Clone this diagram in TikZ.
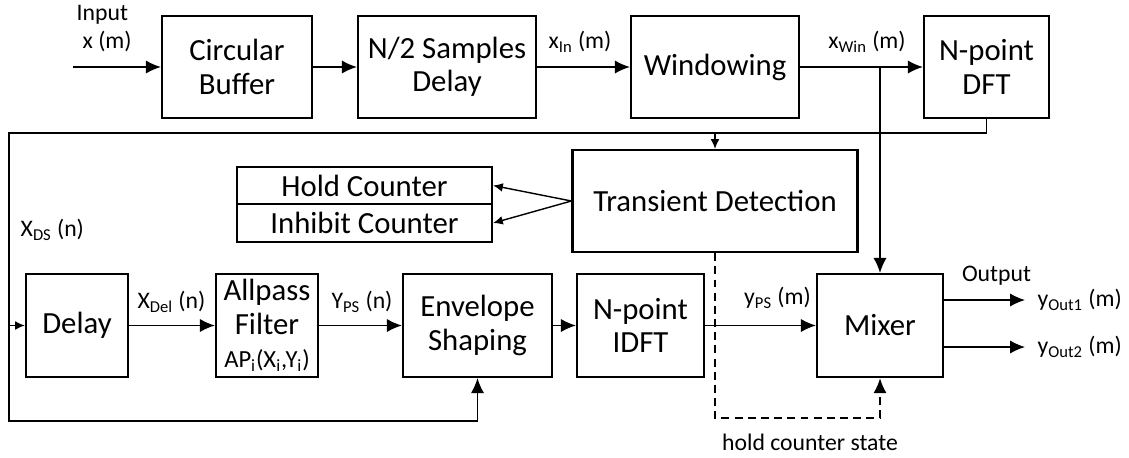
\documentclass[tikz,border=0pt]{standalone}
\usepackage{fontspec}
\setmainfont{Carlito}
\usepackage{tikz}
\usetikzlibrary{arrows,arrows.meta,positioning,calc}

\begin{document}
\begin{tikzpicture}[>={Latex[length=8.5pt,width=7.5pt]}, line width=0.8pt, node distance=4cm]
	\tikzstyle{block}=[draw=black,line width=1.3pt,align=center,inner sep=0pt,font=\fontsize{17.5}{19}\selectfont]
	\tikzstyle{lbl}=[inner sep=0pt,font=\fontsize{13.5}{15.5}\selectfont]
	\tikzstyle{small tip}=[-{Latex[length=5.5pt,width=5pt]}]
	\useasboundingbox (0,0) rectangle (22.58,-9.14);
	% upper chain
	\node[block,minimum width=3cm,minimum height=2.04cm]    (buf) at (4.74,-1.34)  {Circular\\Buffer};
	\node[block,minimum width=3.56cm,minimum height=2.04cm] (half)[node distance=4.2cm,right of=buf]  {N/2 Samples\\Delay};
	\node[block,minimum width=3.36cm,minimum height=2.04cm] (win)[node distance=5.36cm,right of=half] {Windowing};
	\node[block,minimum width=2.5cm,minimum height=2.04cm]  (dft)[node distance=5.43cm,right of=win]  {N-point\\DFT};
	% detection
	\node[block,minimum width=5.7cm,minimum height=2.04cm]  (td)[node distance=2.68cm,below of=win]   {Transient Detection};
	\node[block,minimum width=5.1cm,minimum height=0.74cm]  (hold) at (7.29,-3.71) {Hold Counter};
	\node[block,minimum width=5.1cm,minimum height=0.76cm]  (inh)[below=-1.3pt of hold] {Inhibit Counter};
	% lower chain
	\node[block,minimum width=2.04cm,minimum height=2.06cm] (delay) at (1.54,-6.51) {Delay};
	\node[block,minimum width=2.04cm,minimum height=2.06cm] (ap)[node distance=3.8cm,right of=delay] {Allpass\\Filter\\{\fontsize{14}{15}\selectfont AP\textsubscript{i}(X\textsubscript{i},Y\textsubscript{i})}};
	\node[block,minimum width=2.98cm,minimum height=2.06cm] (env)[node distance=4.21cm,right of=ap]   {Envelope\\Shaping};
	\node[block,minimum width=2.54cm,minimum height=2.06cm] (idft)[node distance=3.26cm,right of=env] {N-point\\IDFT};
	\node[block,minimum width=2.52cm,minimum height=2.06cm] (mix)[node distance=4.79cm,right of=idft] {Mixer};
	% free ends
	\coordinate (in)      at (1.46,-1.34);
	\coordinate (fbtop)   at (0.18,-2.66);
	\coordinate (fbbot)   at (0.18,-8.42);
	\coordinate (dashbot) at (14.29,-8.36);
	\coordinate (o1)      at (20.5,-6.0);
	\coordinate (o2)      at (20.5,-6.94);
	% labels
	\node[lbl,anchor=west,align=left] (inlbl) at (1.52,-0.57) {Input\\\hspace{0.25em}x (m)};
	\node[lbl] (xin)  at (11.6,-0.84)  {x\textsubscript{In} (m)};
	\node[lbl] (xwin) at (17.34,-0.84) {x\textsubscript{Win} (m)};
	\node[lbl,anchor=west] (xds) at (0.4,-4.6) {X\textsubscript{DS} (n)};
	\node[lbl] (xdel) at (3.43,-6.04)  {X\textsubscript{Del} (n)};
	\node[lbl] (yps)  at (7.24,-6.04)  {Y\textsubscript{PS} (n)};
	\node[lbl] (ypsm) at (15.55,-5.96) {y\textsubscript{PS} (m)};
	\node[lbl] (outl) at (19.93,-5.52) {Output};
	\node[lbl,anchor=west] (y1) at (20.74,-6.0)  {y\textsubscript{Out1} (m)};
	\node[lbl,anchor=west] (y2) at (20.74,-6.94) {y\textsubscript{Out2} (m)};
	\node[lbl] (hcs)  at (16.2,-8.84)  {hold counter state};
	% signal flow
	\path[->]
	(in)    edge (buf)
	(buf)   edge (half)
	(half)  edge (win)
	(win)   edge (dft)
	(delay) edge (ap)
	(ap)    edge (env)
	(env)   edge (idft)
	(idft)  edge (mix)
	(td.west) edge[small tip] (hold.east)
	(td.west) edge[small tip] (inh.east);
	\draw[->] (mix.north |- win.east) -- (mix.north);
	\draw[->] (dft.south) |- (fbtop) -- (fbbot) -| (env.south);
	\draw[small tip] (fbtop |- delay.west) -- (delay.west);
	\draw[small tip] (td.north |- fbtop) -- (td.north);
	\draw[->,line width=1.1pt,dash pattern=on 4.5pt off 3pt] (td.south) -- (td.south |- dashbot) -| (mix.south);
	\draw[->] (mix.east |- o1) -- (o1);
	\draw[->] (mix.east |- o2) -- (o2);
\end{tikzpicture}
\end{document}
